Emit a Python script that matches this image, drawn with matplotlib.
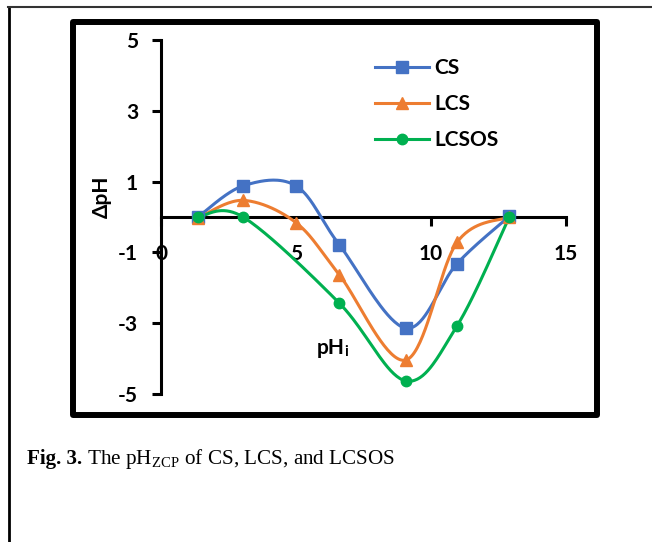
import numpy as np
import matplotlib
matplotlib.use('Agg')
import matplotlib.pyplot as plt
from matplotlib.patches import Rectangle
from matplotlib.lines import Line2D

#==============================================================================
# data
#==============================================================================

ph_i       = [1.37, 3.04, 5.0, 6.6, 9.07, 10.96, 12.9]
dph_cs     = [0.0, 0.88, 0.88, -0.78, -3.14, -1.32, 0.02]
dph_lcs    = [-0.03, 0.47, -0.16, -1.63, -4.04, -0.72, 0.0]
ph_i_os    = [1.37, 3.04, 6.6, 9.07, 10.96, 12.9]
dph_lcsos  = [0.0, 0.0, -2.43, -4.63, -3.08, 0.0]

x_ticks    = [0, 5, 10, 15]
y_ticks    = [-5, -3, -1, 1, 3, 5]
y_ticklbl  = ['-5', '-3', '-1', '1', '3', '5']

#==============================================================================
# colours / styles
#==============================================================================

exBlue   = '#4472C4'
exOrange = '#ED7D31'
exGreen  = '#00B050'

W, H = 652, 542
FS = 15
lbl_font = {'family': ['Lato', 'DejaVu Sans'], 'weight': 'bold', 'size': FS}

plt.rcParams['mathtext.fontset'] = 'custom'
plt.rcParams['mathtext.rm'] = 'Liberation Serif'
plt.rcParams['mathtext.bf'] = 'Liberation Serif:bold'


def excel_smooth(x, y, n=40):
    """Bezier smoothing like Excel's 'smoothed line' (Catmull-Rom, 1/6)."""
    p = np.column_stack([x, y]).astype(float)
    pts = np.vstack([p[0], p, p[-1]])
    t = np.linspace(0, 1, n)[:, None]
    out = []
    for i in range(1, len(pts) - 2):
        p0, p1, p2, p3 = pts[i - 1], pts[i], pts[i + 1], pts[i + 2]
        c1 = p1 + (p2 - p0) / 6.
        c2 = p2 - (p3 - p1) / 6.
        seg = ((1 - t)**3 * p1 + 3 * (1 - t)**2 * t * c1
               + 3 * (1 - t) * t**2 * c2 + t**3 * p2)
        out.append(seg if i == 1 else seg[1:])
    out = np.vstack(out)
    return out[:, 0], out[:, 1]


#==============================================================================
# plot
#==============================================================================

fig = plt.figure(figsize=(W / 100, H / 100), dpi=100)
ax = fig.add_axes([161 / W, 1 - 394 / H, (566 - 161) / W, (394 - 40) / H])

series = [
    (ph_i, dph_cs, exBlue, 's', 8, 'CS'),
    (ph_i, dph_lcs, exOrange, '^', 8.5, 'LCS'),
    (ph_i_os, dph_lcsos, exGreen, 'o', 7.5, 'LCSOS'),
]
handles = []
for xs, ys, col, mk, ms, name in series:
    sx, sy = excel_smooth(xs, ys)
    ax.plot(sx, sy, color=col, lw=2.2, zorder=3, clip_on=False,
            solid_capstyle='round')
    ax.plot(xs, ys, ls='none', marker=mk, ms=ms, color=col, zorder=4,
            clip_on=False)
    handles.append(Line2D([], [], color=col, lw=2.2, marker=mk, ms=ms,
                          label=name))

ax.set_xlim(0, 15)
ax.set_ylim(-5, 5)
ax.spines['top'].set_visible(False)
ax.spines['right'].set_visible(False)
ax.spines['bottom'].set_position(('data', 0))
for s in ('left', 'bottom'):
    ax.spines[s].set_linewidth(2.2)
    ax.spines[s].set_zorder(2)

ax.set_xticks(x_ticks)
ax.set_xticklabels([str(v) for v in x_ticks])
ax.set_yticks(y_ticks)
ax.set_yticklabels(y_ticklbl)
ax.tick_params(axis='both', direction='out', length=6.5, width=2.2)
ax.tick_params(axis='x', pad=13)
ax.tick_params(axis='y', pad=10)
for lab in ax.get_xticklabels() + ax.get_yticklabels():
    lab.set_fontfamily(lbl_font['family'])
    lab.set_fontweight('bold')
    lab.set_fontsize(FS)
ax.patch.set_alpha(0)

# axis titles
fig.text(102 / W, 1 - 197 / H, 'ΔpH', rotation=90, ha='center',
         va='center', fontdict=lbl_font)
t_ph = ax.text(6.3, -3.7, 'pH', ha='center', va='center', fontdict=lbl_font)
ax.annotate('i', xy=(1, 0), xycoords=t_ph, xytext=(-0.3, -1.0),
            textcoords='offset points', ha='left', va='bottom',
            family=lbl_font['family'], weight='bold', size=10.5)

# legend
leg = fig.legend(handles=handles, loc='upper left',
                 bbox_to_anchor=(375 / W, 1 - 58 / H), frameon=False,
                 prop={'family': 'Lato', 'weight': 'bold', 'size': FS},
                 handlelength=2.6, handletextpad=0.25, labelspacing=0.78,
                 borderpad=0, borderaxespad=0)

# chart frame and page frame
fig.add_artist(Rectangle((73 / W, 1 - 415 / H), (597 - 73) / W,
                         (415 - 22) / H, fill=False, lw=4.3, ec='k',
                         joinstyle='round', transform=fig.transFigure))
fig.add_artist(Line2D([9 / W, 9 / W], [0, 1 - 7 / H], color='k', lw=2,
                      transform=fig.transFigure))
fig.add_artist(Line2D([8 / W, 1], [1 - 7 / H, 1 - 7 / H], color='#333333',
                      lw=1.5, transform=fig.transFigure))

# caption: bold "Fig. 3." followed by regular text
cap_y = 1 - 464 / H
cap_fs = 15.2
t_fig = fig.text(27 / W, cap_y, 'Fig. 3.', family='Liberation Serif',
                 weight='bold', size=cap_fs, ha='left', va='baseline')
rend = fig.canvas.get_renderer()
x_end = t_fig.get_window_extent(rend).x1
fig.text(x_end / W, cap_y,
         r' The pH$_{\mathrm{ZCP}}$ of CS, LCS, and LCSOS',
         family='Liberation Serif', size=cap_fs, ha='left', va='baseline')

fig.savefig('out.png', dpi=100)
